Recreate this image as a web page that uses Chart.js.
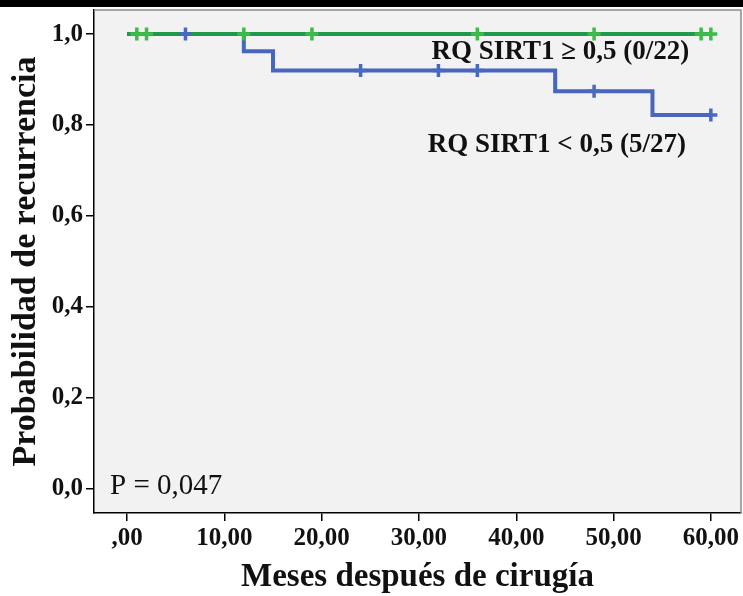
<!DOCTYPE html>
<html>
<head>
<meta charset="utf-8">
<script src="https://cdn.jsdelivr.net/npm/chart.js@4/dist/chart.umd.min.js"></script>
<style>
html,body{margin:0;padding:0;background:#fff;}
#wrap{width:743px;height:596px;position:relative;}
</style>
</head>
<body>
<div id="wrap"><canvas id="c" width="743" height="596"></canvas></div>
<script>
// ---- data ----
const xTicks = [0, 10, 20, 30, 40, 50, 60];
const xTickLabels = [',00', '10,00', '20,00', '30,00', '40,00', '50,00', '60,00'];
const yTicks = [0, 0.2, 0.4, 0.6, 0.8, 1.0];
const yTickLabels = ['0,0', '0,2', '0,4', '0,6', '0,8', '1,0'];

// RQ SIRT1 < 0,5 (5/27)  - step curve
const lowTime = [0, 12, 15, 44, 54, 60];
const lowSurv = [1.0, 0.962, 0.920, 0.874, 0.822, 0.822];
const lowCensorTime = [6, 24, 32, 36, 48, 60];
const lowCensorSurv = [1.0, 0.920, 0.920, 0.920, 0.874, 0.822];

// RQ SIRT1 >= 0,5 (0/22)
const highTime = [0, 60];
const highSurv = [1.0, 1.0];
const highCensorTime = [1, 2, 12, 19, 36, 48, 59, 60];
const highCensorSurv = [1, 1, 1, 1, 1, 1, 1, 1];

const labelHigh = 'RQ SIRT1 \u2265 0,5 (0/22)';
const labelLow = 'RQ SIRT1 < 0,5 (5/27)';
const pLabel = 'P = 0,047';

const toXY = (xs, ys) => xs.map((x, i) => ({x: x, y: ys[i]}));

const SERIF = '"Liberation Serif", "Times New Roman", serif';
const BLUE = '#4866be';
const BLUE_C = '#4a68c2';
const GREEN = '#1d9a4c';
const GREEN_C = '#3dbb4b';

const bgPlugin = {
  id: 'bg',
  beforeDraw(chart) {
    const {ctx, chartArea: a} = chart;
    ctx.save();
    ctx.fillStyle = '#ffffff';
    ctx.fillRect(0, 0, chart.width, chart.height);
    ctx.fillStyle = '#f2f2f2';
    ctx.fillRect(a.left, a.top, a.right - a.left, a.bottom - a.top);
    ctx.restore();
  },
  afterDraw(chart) {
    const {ctx, chartArea: a} = chart;
    ctx.save();
    ctx.strokeStyle = '#8c8c8c';
    ctx.lineWidth = 1.5;
    ctx.beginPath();
    ctx.moveTo(a.left, a.top);
    ctx.lineTo(a.right, a.top);
    ctx.lineTo(a.right, a.bottom);
    ctx.stroke();
    ctx.fillStyle = '#000';
    ctx.fillRect(0, 0, chart.width, 7);
    ctx.restore();
  }
};

const textPlugin = {
  id: 'txt',
  afterDatasetsDraw(chart) {
    const {ctx, scales: {x, y}} = chart;
    ctx.save();
    ctx.fillStyle = '#111';
    ctx.textBaseline = 'middle';
    ctx.textAlign = 'left';
    ctx.font = 'bold 27px ' + SERIF;
    ctx.fillText(labelHigh, x.getPixelForValue(31.3), y.getPixelForValue(0.961));
    ctx.fillText(labelLow, x.getPixelForValue(30.9), y.getPixelForValue(0.756));
    ctx.font = '29px ' + SERIF;
    ctx.fillText(pLabel, x.getPixelForValue(-1.75), y.getPixelForValue(0.004));
    ctx.restore();
  }
};

new Chart(document.getElementById('c'), {
  type: 'scatter',
  data: {
    datasets: [
      {label: 'censor low', data: toXY(lowCensorTime, lowCensorSurv), pointStyle: 'cross',
       pointRadius: 6.5, pointBorderWidth: 3.5, borderColor: BLUE_C, backgroundColor: BLUE_C, showLine: false},
      {label: 'censor high', data: toXY(highCensorTime, highCensorSurv), pointStyle: 'cross',
       pointRadius: 6.5, pointBorderWidth: 3.5, borderColor: GREEN_C, backgroundColor: GREEN_C, showLine: false},
      {label: labelHigh, data: toXY(highTime, highSurv), showLine: true, stepped: true,
       borderColor: GREEN, borderWidth: 4, pointRadius: 0, fill: false},
      {label: labelLow, data: toXY(lowTime, lowSurv), showLine: true, stepped: true,
       borderColor: BLUE, borderWidth: 4, pointRadius: 0, fill: false}
    ]
  },
  options: {
    responsive: false,
    animation: false,
    layout: {autoPadding: false, padding: {top: 10, right: 2, left: 0, bottom: 0}},
    plugins: {legend: {display: false}, tooltip: {enabled: false}},
    scales: {
      x: {
        type: 'linear', min: -3.4, max: 63.1,
        afterBuildTicks: (s) => { s.ticks = xTicks.map(v => ({value: v})); },
        afterFit: (s) => { s.height = 83; s.paddingLeft = 0; s.paddingRight = 0; },
        grid: {display: true, drawOnChartArea: false, drawTicks: true, tickLength: 8, color: '#000', lineWidth: 1.5},
        border: {display: true, color: '#000', width: 1.5},
        ticks: {
          autoSkip: false, maxRotation: 0, padding: 3, color: '#111',
          font: {family: SERIF, size: 25, weight: 'bold'},
          callback: (v) => { const i = xTicks.indexOf(v); return i >= 0 ? xTickLabels[i] : ''; }
        },
        title: {display: true, text: 'Meses después de cirugía', color: '#111',
          font: {family: SERIF, size: 33, weight: 'bold', lineHeight: 1.0}, padding: {top: 0, bottom: 2}}
      },
      y: {
        type: 'linear', min: -0.054, max: 1.053,
        afterBuildTicks: (s) => { s.ticks = yTicks.map(v => ({value: v})); },
        afterFit: (s) => { s.width = 94; s.paddingTop = 0; s.paddingBottom = 0; },
        grid: {display: true, drawOnChartArea: false, drawTicks: true, tickLength: 8, color: '#000', lineWidth: 1.5},
        border: {display: true, color: '#000', width: 1.5},
        ticks: {
          autoSkip: false, padding: 3, color: '#111',
          font: {family: SERIF, size: 25, weight: 'bold'},
          callback: (v) => { const i = yTicks.findIndex(t => Math.abs(t - v) < 1e-9); return i >= 0 ? yTickLabels[i] : ''; }
        },
        title: {display: true, text: 'Probabilidad de recurrencia', color: '#111',
          font: {family: SERIF, size: 34, weight: 'bold', lineHeight: 1.0}, padding: {top: 9, bottom: 0}}
      }
    }
  },
  plugins: [bgPlugin, textPlugin]
});
</script>
</body>
</html>
